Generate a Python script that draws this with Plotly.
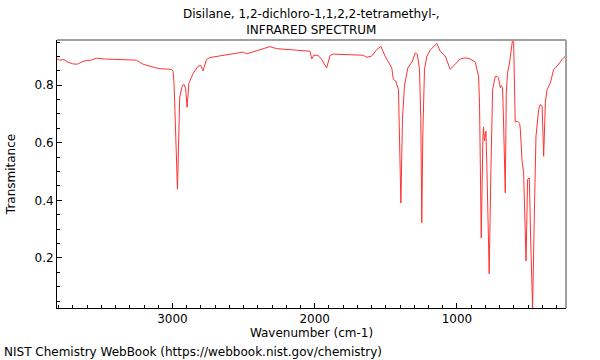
import plotly.graph_objects as go

wavenumber = [3812, 3794, 3763, 3735, 3700, 3669, 3641, 3606, 3570, 3535, 3477, 3359, 3254, 3207,
              3125, 3077, 3007, 2996, 2989, 2965, 2949, 2930, 2918, 2908, 2897, 2885, 2855, 2820,
              2801, 2785, 2761, 2737, 2667, 2620, 2503, 2479, 2385, 2315, 2268, 2151, 2033, 2021,
              2005, 1975, 1951, 1916, 1892, 1869, 1658, 1634, 1599, 1563, 1535, 1505, 1470, 1458,
              1447, 1430, 1411, 1404, 1394, 1383, 1369, 1345, 1313, 1294, 1278, 1263, 1254, 1247,
              1240, 1228, 1211, 1188, 1141, 1118, 1082, 1047, 1012, 977, 942, 906, 871, 848, 841,
              829, 817, 813, 806, 796, 789, 773, 761, 749, 730, 718, 707, 695, 688, 679, 672, 660,
              653, 644, 630, 618, 609, 601, 590, 573, 559, 554, 542, 531, 514, 503, 491, 482, 468,
              454, 444, 425, 413, 401, 390, 378, 366, 343, 320, 296, 261, 233]
transmittance = [0.891, 0.887, 0.889, 0.880, 0.874, 0.873, 0.880, 0.886, 0.887, 0.894, 0.891, 0.889,
                 0.887, 0.873, 0.861, 0.857, 0.855, 0.849, 0.806, 0.439, 0.759, 0.800, 0.802, 0.789,
                 0.723, 0.806, 0.841, 0.866, 0.869, 0.850, 0.889, 0.896, 0.902, 0.907, 0.915, 0.909,
                 0.922, 0.934, 0.927, 0.923, 0.918, 0.891, 0.905, 0.903, 0.889, 0.860, 0.903, 0.908,
                 0.904, 0.897, 0.901, 0.924, 0.935, 0.901, 0.872, 0.860, 0.820, 0.814, 0.785, 0.623,
                 0.391, 0.681, 0.797, 0.860, 0.883, 0.912, 0.907, 0.855, 0.681, 0.322, 0.623, 0.855,
                 0.901, 0.922, 0.945, 0.918, 0.901, 0.855, 0.872, 0.891, 0.895, 0.891, 0.880, 0.831,
                 0.739, 0.270, 0.623, 0.655, 0.606, 0.640, 0.507, 0.145, 0.507, 0.785, 0.831, 0.831,
                 0.825, 0.791, 0.799, 0.791, 0.669, 0.426, 0.773, 0.843, 0.877, 0.935, 0.957, 0.947,
                 0.672, 0.675, 0.667, 0.646, 0.536, 0.496, 0.189, 0.473, 0.478, 0.276, 0.026, 0.391,
                 0.623, 0.716, 0.733, 0.727, 0.553, 0.739, 0.785, 0.808, 0.855, 0.866, 0.889, 0.903]

x_range = [3812, 233]
y_range = [0.026, 0.957]
x_ticks = [1000, 2000, 3000]
y_ticks = [0.2, 0.4, 0.6, 0.8]

title_lines = ["Disilane, 1,2-dichloro-1,1,2,2-tetramethyl-,", "INFRARED SPECTRUM"]
footer = "NIST Chemistry WebBook (https://webbook.nist.gov/chemistry)"

FONT = "DejaVu Sans"

fig = go.Figure()
fig.add_trace(go.Scatter(x=wavenumber, y=transmittance, mode="lines",
                         line=dict(color="rgb(255,50,50)", width=1), hoverinfo="skip"))

fig.update_layout(
    width=600, height=360,
    margin=dict(l=57, r=34, t=40, b=52, autoexpand=False),
    paper_bgcolor="white", plot_bgcolor="white",
    showlegend=False,
    font=dict(family=FONT, size=12, color="black"),
)
fig.update_xaxes(
    range=x_range, tickvals=x_ticks, ticktext=[str(v) for v in x_ticks],
    ticks="inside", ticklen=5, tickcolor="black", tickwidth=1,
    minor=dict(dtick=100, ticks="inside", ticklen=3, tickcolor="black"),
    showline=True, linecolor="black", linewidth=1, mirror=False,
    showgrid=False, zeroline=False, automargin=False,
    title=dict(text="Wavenumber (cm-1)", standoff=2, font=dict(size=12)),
    tickfont=dict(size=12),
)
fig.update_yaxes(
    range=y_range, tickvals=y_ticks, ticktext=[f"{v:.1f}" for v in y_ticks],
    ticks="inside", ticklen=5, tickcolor="black", tickwidth=1,
    minor=dict(dtick=0.05, tick0=0, ticks="inside", ticklen=3, tickcolor="black"),
    showline=True, linecolor="black", linewidth=1, mirror=False,
    showgrid=False, zeroline=False, automargin=False,
    title=dict(text="Transmitance", standoff=16, font=dict(size=12)),
    tickfont=dict(size=12),
)
# gray top and right frame
fig.add_shape(type="line", xref="paper", yref="paper", x0=0, x1=1, y0=1, y1=1,
              line=dict(color="#a0a0a0", width=2))
fig.add_shape(type="line", xref="paper", yref="paper", x0=1, x1=1, y0=0, y1=1,
              line=dict(color="#a0a0a0", width=2))

fig.add_annotation(text=title_lines[0] + "<br>" + title_lines[1], xref="paper", yref="paper",
                   x=0.5, y=1, yshift=1, yanchor="bottom", xanchor="center", showarrow=False,
                   font=dict(size=12, family=FONT))
fig.add_annotation(text=footer, xref="paper", yref="paper", x=0, xshift=-55, y=0, yshift=-44,
                   xanchor="left", yanchor="middle", showarrow=False, font=dict(size=12, family=FONT))

fig.write_html("out.html", config={"displayModeBar": False},
               post_script="document.body.style.margin='0';")
